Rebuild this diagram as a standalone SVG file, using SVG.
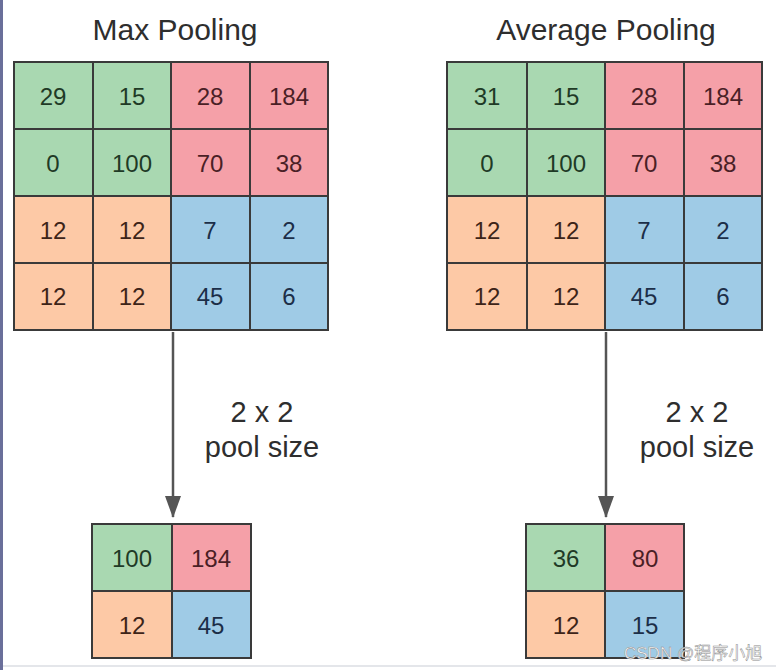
<svg xmlns="http://www.w3.org/2000/svg" width="776" height="670" viewBox="0 0 776 670">
<defs>
<style>
.g{fill:#a9d8b1}.r{fill:#f5a0a8}.o{fill:#fdc9a6}.b{fill:#9fcbe6}
.ln{stroke:#3a3a3a;stroke-width:2;fill:none}
.n{font-family:"Liberation Sans",Arial,sans-serif;font-size:24px;text-anchor:middle}
.tg{fill:#1f3a26}.tr{fill:#4a1f26}.to{fill:#3d2418}.tb{fill:#1c2e48}
.t{font-family:"Liberation Sans",Arial,sans-serif;font-size:29px;fill:#2e2e2e;text-anchor:middle}
.ar{stroke:#555;stroke-width:2.5;fill:none}
</style>
<marker id="ah" viewBox="0 0 22 16" refX="21" refY="8" markerWidth="22" markerHeight="16" markerUnits="userSpaceOnUse" orient="auto">
<path d="M0,0 L22,8 L0,16 z" fill="#555"/>
</marker>
</defs>
<rect width="776" height="670" fill="#fff"/>
<rect x="0" y="0" width="3" height="670" fill="#6a6f9a"/>
<rect x="3" y="665" width="773" height="2" fill="#e4e6ea"/>

<g id="max-title"><text class="t" x="175" y="40" style="font-size:30px">Max Pooling</text></g>
<g id="avg-title"><text class="t" x="606" y="40" style="font-size:30px">Average Pooling</text></g>

<g id="max-input">
<rect class="g" x="14" y="62" width="157" height="134"/>
<rect class="r" x="171" y="62" width="157" height="134"/>
<rect class="o" x="14" y="196" width="157" height="134"/>
<rect class="b" x="171" y="196" width="157" height="134"/>
<path class="ln" d="M14,62H328V330H14Z M93,62V330 M171,62V330 M250,62V330 M14,129H328 M14,196H328 M14,263H328"/>
<g class="n">
<text class="tg" x="53" y="105">29</text><text class="tg" x="132" y="105">15</text><text class="tr" x="210" y="105">28</text><text class="tr" x="289" y="105">184</text>
<text class="tg" x="53" y="172">0</text><text class="tg" x="132" y="172">100</text><text class="tr" x="210" y="172">70</text><text class="tr" x="289" y="172">38</text>
<text class="to" x="53" y="239">12</text><text class="to" x="132" y="239">12</text><text class="tb" x="210" y="239">7</text><text class="tb" x="289" y="239">2</text>
<text class="to" x="53" y="305">12</text><text class="to" x="132" y="305">12</text><text class="tb" x="210" y="305">45</text><text class="tb" x="289" y="305">6</text>
</g>
</g>

<g id="avg-input">
<rect class="g" x="447" y="62" width="158" height="134"/>
<rect class="r" x="605" y="62" width="157" height="134"/>
<rect class="o" x="447" y="196" width="158" height="134"/>
<rect class="b" x="605" y="196" width="157" height="134"/>
<path class="ln" d="M447,62H762V330H447Z M527,62V330 M605,62V330 M684,62V330 M447,129H762 M447,196H762 M447,263H762"/>
<g class="n">
<text class="tg" x="487" y="105">31</text><text class="tg" x="566" y="105">15</text><text class="tr" x="644" y="105">28</text><text class="tr" x="723" y="105">184</text>
<text class="tg" x="487" y="172">0</text><text class="tg" x="566" y="172">100</text><text class="tr" x="644" y="172">70</text><text class="tr" x="723" y="172">38</text>
<text class="to" x="487" y="239">12</text><text class="to" x="566" y="239">12</text><text class="tb" x="644" y="239">7</text><text class="tb" x="723" y="239">2</text>
<text class="to" x="487" y="305">12</text><text class="to" x="566" y="305">12</text><text class="tb" x="644" y="305">45</text><text class="tb" x="723" y="305">6</text>
</g>
</g>

<g id="connectors">
<line class="ar" x1="173" y1="332" x2="173" y2="517" marker-end="url(#ah)"/>
<line class="ar" x1="606" y1="332" x2="606" y2="517" marker-end="url(#ah)"/>
</g>

<g id="max-label"><text class="t" x="262" y="422">2 x 2</text><text class="t" x="262" y="457">pool size</text></g>
<g id="avg-label"><text class="t" x="697" y="422">2 x 2</text><text class="t" x="697" y="457">pool size</text></g>

<g id="max-output">
<rect class="g" x="92" y="524" width="80" height="67"/>
<rect class="r" x="172" y="524" width="79" height="67"/>
<rect class="o" x="92" y="591" width="80" height="67"/>
<rect class="b" x="172" y="591" width="79" height="67"/>
<path class="ln" d="M92,524H251V658H92Z M172,524V658 M92,591H251"/>
<g class="n">
<text class="tg" x="132" y="567">100</text><text class="tr" x="211" y="567">184</text>
<text class="to" x="132" y="634">12</text><text class="tb" x="211" y="634">45</text>
</g>
</g>

<g id="avg-output">
<rect class="g" x="526" y="524" width="79" height="67"/>
<rect class="r" x="605" y="524" width="79" height="67"/>
<rect class="o" x="526" y="591" width="79" height="67"/>
<rect class="b" x="605" y="591" width="79" height="67"/>
<path class="ln" d="M526,524H684V658H526Z M605,524V658 M526,591H684"/>
<g class="n">
<text class="tg" x="566" y="567">36</text><text class="tr" x="645" y="567">80</text>
<text class="to" x="566" y="634">12</text><text class="tb" x="645" y="634">15</text>
</g>
</g>

<g id="watermark"><text x="624" y="659" style="font-family:'Liberation Sans','Noto Sans CJK SC',sans-serif;font-size:17px;fill:#ffffff;stroke:#8a8a8a;stroke-width:0.5">CSDN @程序小旭</text></g>
</svg>
